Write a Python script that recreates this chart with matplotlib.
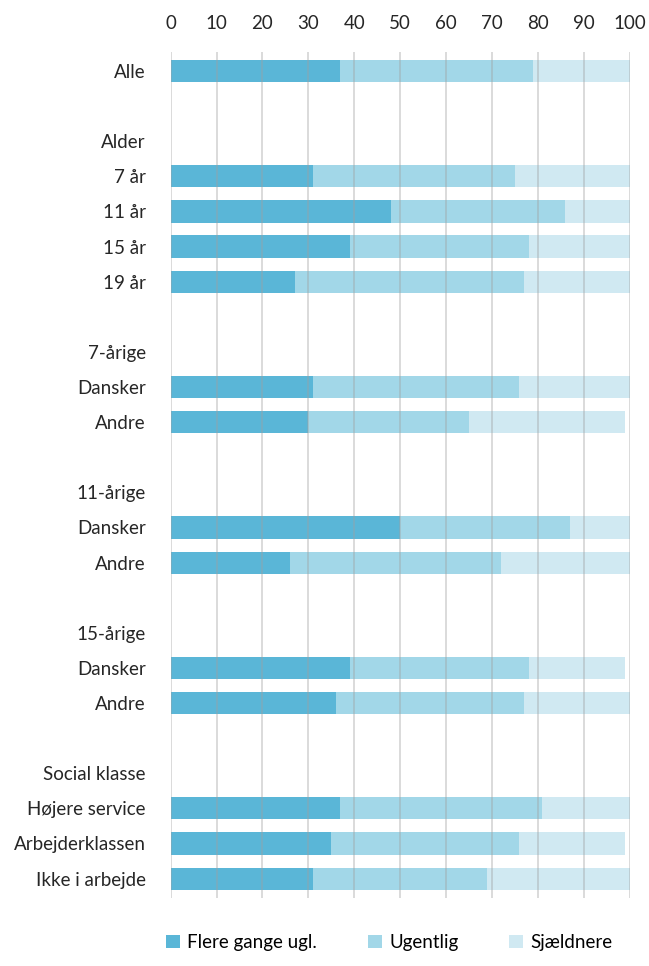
import numpy as np
import matplotlib.pyplot as plt
from matplotlib.patches import Patch

plt.rcParams['font.family'] = ['Lato', 'DejaVu Sans']

labels = ['Alle', '', 'Alder', '7 år', '11 år', '15 år', '19 år', '',
          '7-årige', 'Dansker', 'Andre', '',
          '11-årige', 'Dansker', 'Andre', '',
          '15-årige', 'Dansker', 'Andre', '',
          'Social klasse', 'Højere service', 'Arbejderklassen', 'Ikke i arbejde']

# segment widths in percent (0 for blank/header rows)
flere = [37, 0, 0, 31, 48, 39, 27, 0, 0, 31, 30, 0, 0, 50, 26, 0, 0, 39, 36, 0, 0, 37, 35, 31]
ugentlig = [42, 0, 0, 44, 38, 39, 50, 0, 0, 45, 35, 0, 0, 37, 46, 0, 0, 39, 41, 0, 0, 44, 41, 38]
sjaeldnere = [21, 0, 0, 25, 14, 22, 23, 0, 0, 24, 34, 0, 0, 13, 28, 0, 0, 21, 23, 0, 0, 19, 23, 31.5]

series = ['Flere gange ugl.', 'Ugentlig', 'Sjældnere']
colors = ['#5ab6d7', '#a2d7e8', '#d0e9f2']

fig = plt.figure(figsize=(6.49, 9.66), dpi=100)
ax = fig.add_axes([0.263, 0.0705, 0.707, 0.876])

y = np.arange(len(labels))
f = np.array(flere)
u = np.array(ugentlig)
s = np.array(sjaeldnere)
h = 0.63
ax.barh(y, f, height=h, color=colors[0], zorder=2)
ax.barh(y, u, left=f, height=h, color=colors[1], zorder=2)
ax.barh(y, s, left=f + u, height=h, color=colors[2], zorder=2)

ax.set_xlim(0, 100)
ax.set_ylim(len(labels) - 0.45, -0.55)
ax.set_xticks(np.arange(0, 101, 10))
ax.xaxis.tick_top()
ax.set_yticks(y)
ax.set_yticklabels(labels)
ax.tick_params(axis='both', length=0, labelsize=13.5, colors='#262626')
ax.tick_params(axis='x', pad=14)
ax.tick_params(axis='y', pad=18)
ax.grid(axis='x', color='#a0a0a0', alpha=0.45, linewidth=1.2, zorder=3)
ax.set_axisbelow(False)
for sp in ax.spines.values():
    sp.set_visible(False)

handles = [Patch(facecolor=c, edgecolor='none') for c in colors]
fig.legend(handles, series, loc='lower center', bbox_to_anchor=(0.6, -0.002), ncol=3,
           frameon=False, fontsize=13.5, handlelength=0.75, handleheight=0.75,
           handletextpad=0.4, columnspacing=2.7)

fig.savefig('out.png', dpi=100)
